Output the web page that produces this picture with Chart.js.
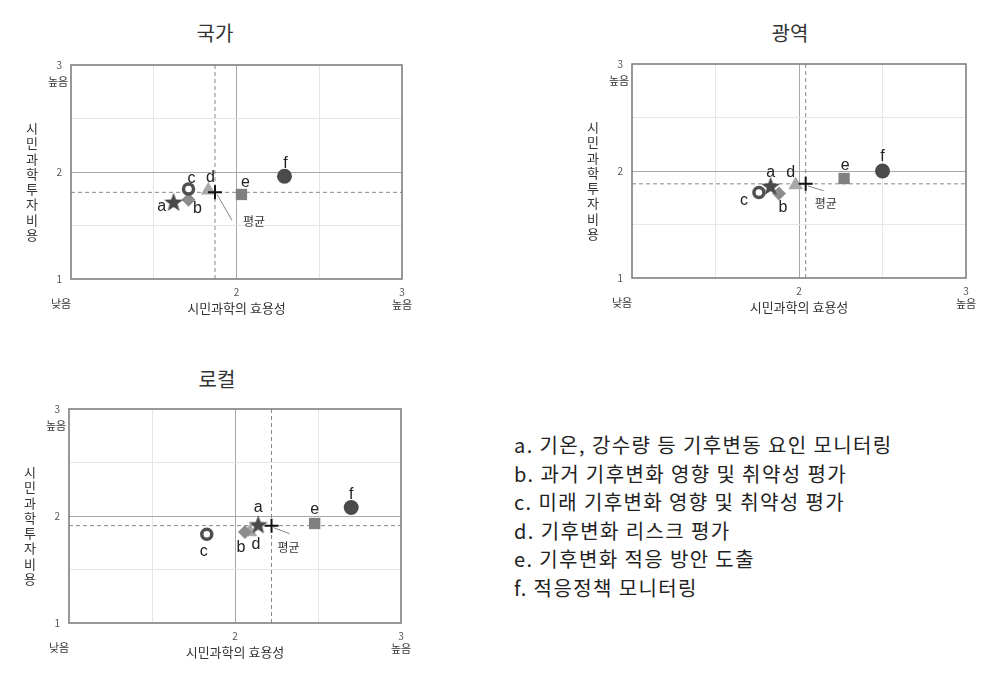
<!DOCTYPE html>
<html>
<head>
<meta charset="utf-8">
<script src="https://cdn.jsdelivr.net/npm/chart.js@4"></script>
<style>
body{margin:0;background:#fff;width:993px;height:673px;overflow:hidden;position:relative;font-family:"Noto Sans CJK KR",sans-serif}
canvas{position:absolute}
.ttl{position:absolute;font-size:20px;color:#333;transform:translate(-50%,-50%);white-space:nowrap}
#legend{position:absolute;left:514px;top:431px;font-size:20px;letter-spacing:1.4px;line-height:28.5px;color:#222;white-space:nowrap}
</style>
</head>
<body>
<div class="ttl" style="left:215px;top:32px">국가</div>
<div class="ttl" style="left:790px;top:32px">광역</div>
<div class="ttl" style="left:217px;top:378px">로컬</div>
<canvas id="national" width="440" height="330" style="left:0;top:0"></canvas>
<canvas id="metro" width="432" height="330" style="left:561px;top:0"></canvas>
<canvas id="local" width="440" height="329" style="left:0;top:344px"></canvas>
<div id="legend"></div>
<script>
// items a-f and what they stand for
var items = ['a', 'b', 'c', 'd', 'e', 'f']
var itemNames = [
    '기온, 강수량 등 기후변동 요인 모니터링',
    '과거 기후변화 영향 및 취약성 평가',
    '미래 기후변화 영향 및 취약성 평가',
    '기후변화 리스크 평가',
    '기후변화 적응 방안 도출',
    '적응정책 모니터링'
]

// x = 시민과학의 효용성, y = 시민과학 투자 비용
var nationalX = [1.62, 1.71, 1.71, 1.83, 2.03, 2.29]
var nationalY = [1.72, 1.74, 1.84, 1.83, 1.79, 1.96]
var metroX = [1.83, 1.88, 1.76, 1.98, 2.27, 2.50]
var metroY = [1.86, 1.79, 1.80, 1.87, 1.93, 2.00]
var localX = [2.14, 2.06, 1.83, 2.09, 2.48, 2.70]
var localY = [1.92, 1.85, 1.83, 1.85, 1.93, 2.08]

// 평균 (national, metro, local)
var meanX = [1.87, 2.04, 2.22]
var meanY = [1.81, 1.88, 1.91]

var axisMin = 1
var axisMax = 3
var yTitle = '시민과학투자비용'
var xTitle = '시민과학의 효용성'

document.getElementById('legend').innerHTML =
    items.map(function(k, i){ return k + '. ' + itemNames[i] }).join('<br>')

Chart.defaults.font.family = '"Noto Sans CJK KR", sans-serif'

function starImage(){
    var c = document.createElement('canvas')
    c.width = 22
    c.height = 22
    var g = c.getContext('2d')
    g.beginPath()
    for (var i = 0; i < 10; i++) {
        var r = i % 2 == 0 ? 10 : 4.2
        var ang = -Math.PI / 2 + i * Math.PI / 5
        g.lineTo(11 + r * Math.cos(ang), 11.8 + r * Math.sin(ang))
    }
    g.closePath()
    g.fillStyle = '#4a4a4a'
    g.fill()
    return c
}

var star = starImage()
var markStyle = [star, 'rectRot', 'circle', 'triangle', 'rect', 'circle']
var markRadius = [10, 7, 5, 8.5, 8, 7.5]
var markFill = ['#4a4a4a', '#8c8c8c', '#ffffff', '#a8a8a8', '#808080', '#4b4b4b']
var markBorder = ['#4a4a4a', '#8c8c8c', '#505050', '#a8a8a8', '#808080', '#4b4b4b']
var markBorderWidth = [0, 0, 3.5, 0, 0, 0]
var markOrder = [4, 5, 3, 6, 2, 1]

var textPlugin = {
    id: 'textPlugin',
    afterDraw: function(chart){
        var o = chart.options.plugins.textPlugin
        var ctx = chart.ctx
        var a = chart.chartArea
        var xs = chart.scales.x
        var ys = chart.scales.y
        ctx.save()
        ctx.strokeStyle = '#777'
        ctx.lineWidth = 1.5
        ctx.strokeRect(a.left, a.top, a.right - a.left, a.bottom - a.top)

        ctx.fillStyle = '#333'
        ctx.textAlign = 'center'
        ctx.textBaseline = 'middle'
        ctx.font = '13px "Noto Sans CJK KR"'
        for (var i = 0; i < yTitle.length; i++) {
            ctx.fillText(yTitle[i], a.left - 39, a.top + 63 + i * 15.3)
        }
        ctx.font = '11px "Noto Sans CJK KR"'
        ctx.fillText('높음', a.left - 13, ys.getPixelForValue(axisMax) + 17)
        ctx.fillText('낮음', a.left - 10, a.bottom + 25)
        ctx.fillText('높음', xs.getPixelForValue(axisMax), a.bottom + 26)

        ctx.font = '16px "Liberation Sans"'
        ctx.fillStyle = '#222'
        for (var j = 0; j < items.length; j++) {
            var px = xs.getPixelForValue(o.x[j])
            var py = ys.getPixelForValue(o.y[j])
            ctx.fillText(items[j], px + o.offsets[j][0], py + o.offsets[j][1])
        }

        var mx = xs.getPixelForValue(o.mx)
        var my = ys.getPixelForValue(o.my)
        ctx.strokeStyle = '#666'
        ctx.lineWidth = 0.8
        ctx.beginPath()
        ctx.moveTo(mx + 2, my + 2)
        ctx.lineTo(mx + o.meanLine[0], my + o.meanLine[1])
        ctx.stroke()
        ctx.font = '12px "Noto Sans CJK KR"'
        ctx.fillStyle = '#333'
        ctx.fillText('평균', mx + o.meanText[0], my + o.meanText[1])
        ctx.restore()
    }
}

function makeChart(id, xv, yv, mx, my, box, offsets, meanLine, meanText){
    var datasets = []
    for (var i = 0; i < items.length; i++) {
        datasets.push({
            label: items[i],
            data: [{x: xv[i], y: yv[i]}],
            pointStyle: markStyle[i],
            pointRadius: markRadius[i],
            backgroundColor: markFill[i],
            borderColor: markBorder[i],
            borderWidth: markBorderWidth[i],
            order: markOrder[i]
        })
    }
    datasets.push({
        label: '평균',
        data: [{x: mx, y: my}],
        pointStyle: 'cross',
        pointRadius: 7,
        borderColor: '#111',
        borderWidth: 2,
        order: 0
    })
    datasets.push({
        data: [{x: mx, y: axisMin}, {x: mx, y: axisMax}],
        showLine: true, pointRadius: 0,
        borderColor: '#888', borderWidth: 1, borderDash: [4, 3],
        order: 20
    })
    datasets.push({
        data: [{x: axisMin, y: my}, {x: axisMax, y: my}],
        showLine: true, pointRadius: 0,
        borderColor: '#888', borderWidth: 1, borderDash: [4, 3],
        order: 20
    })

    var gridColor = function(c){
        var v = c.tick.value
        if (v == 2) return '#a8a8a8'
        if (v == axisMin || v == axisMax) return 'rgba(0,0,0,0)'
        return '#e6e6e6'
    }

    return new Chart(document.getElementById(id), {
        type: 'scatter',
        data: {datasets: datasets},
        options: {
            responsive: false,
            animation: false,
            layout: {padding: {left: 20, top: box.top, right: box.right, bottom: box.bottom}},
            plugins: {
                legend: {display: false},
                tooltip: {enabled: false},
                textPlugin: {x: xv, y: yv, mx: mx, my: my, offsets: offsets, meanLine: meanLine, meanText: meanText}
            },
            scales: {
                x: {
                    min: axisMin, max: axisMax,
                    afterFit: function(s){ s.height = 40 },
                    border: {display: false},
                    grid: {color: gridColor, drawTicks: false},
                    ticks: {
                        stepSize: 0.5, autoSkip: false, maxRotation: 0, padding: 7,
                        color: '#555', font: {size: 10},
                        callback: function(v){ return (v == 2 || v == 3) ? String(v) : '' }
                    },
                    title: {display: true, text: xTitle, color: '#333', font: {size: 13}, padding: {top: 4, bottom: 3}}
                },
                y: {
                    min: axisMin, max: axisMax,
                    afterFit: function(s){ s.width = box.yWidth },
                    border: {display: false},
                    grid: {color: gridColor, drawTicks: false},
                    ticks: {
                        stepSize: 0.5, autoSkip: false, padding: 9,
                        color: '#555', font: {size: 10},
                        callback: function(v){ return Number.isInteger(v) ? String(v) : '' }
                    }
                }
            }
        },
        plugins: [textPlugin]
    })
}

makeChart('national', nationalX, nationalY, meanX[0], meanY[0],
    {top: 65, right: 38, bottom: 11, yWidth: 51},
    [[-12, 5], [9, 9], [3, -11], [2, -13], [4, -12], [1, -13]],
    [17, 28], [39, 29])

makeChart('metro', metroX, metroY, meanX[1], meanY[1],
    {top: 64, right: 27, bottom: 12, yWidth: 51},
    [[0, -13], [4, 14], [-15, 8], [-5, -12], [1, -13], [0, -14]],
    [18, 7], [20, 20])

makeChart('local', localX, localY, meanX[2], meanY[2],
    {top: 65, right: 39, bottom: 10, yWidth: 49},
    [[0, -17], [-4, 16], [-3, 17], [6, 13], [0, -14], [0, -13]],
    [18, 8], [17, 22])
</script>
</body>
</html>
